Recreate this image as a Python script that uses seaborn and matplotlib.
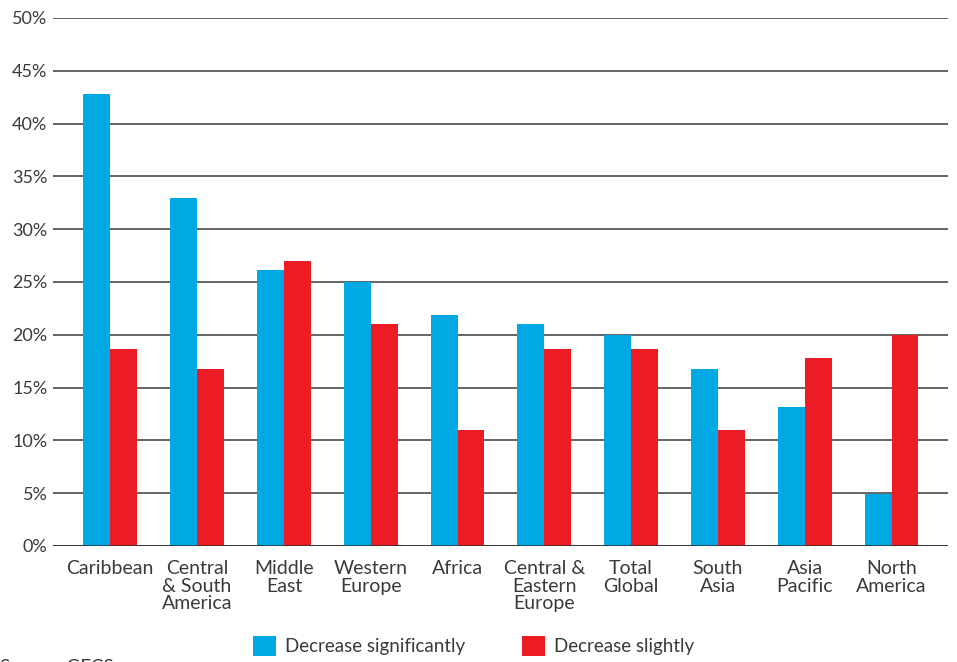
import pandas as pd
import matplotlib.pyplot as plt
import seaborn as sns
from matplotlib.patches import Patch

# chart data
regions = ["Caribbean", "Central\n& South\nAmerica", "Middle\nEast", "Western\nEurope",
           "Africa", "Central &\nEastern\nEurope", "Total\nGlobal", "South\nAsia",
           "Asia\nPacific", "North\nAmerica"]
decrease_significantly = [42.8, 33.0, 26.1, 25.0, 21.9, 21.0, 20.0, 16.8, 13.2, 4.9]
decrease_slightly = [18.7, 16.8, 27.0, 21.0, 11.0, 18.7, 18.7, 11.0, 17.8, 20.0]
series_names = ["Decrease significantly", "Decrease slightly"]
y_ticks = [0, 5, 10, 15, 20, 25, 30, 35, 40, 45, 50]

blue = "#00A9E3"
red = "#ED1C24"
text_col = "#3a3a3a"

df = pd.DataFrame({
    "region": regions * 2,
    "value": decrease_significantly + decrease_slightly,
    "series": [series_names[0]] * len(regions) + [series_names[1]] * len(regions),
})

sns.set_style("white")
plt.rcParams["font.family"] = ["Lato", "DejaVu Sans"]

fig = plt.figure(figsize=(9.57, 6.62), dpi=100)
ax = fig.add_axes([53 / 957, 1 - 546 / 662, (948 - 53) / 957, (546 - 18) / 662])

sns.barplot(data=df, x="region", y="value", hue="series", palette=[blue, red],
            width=0.62, saturation=1, ax=ax, legend=False, zorder=3,
            linewidth=0, edgecolor="none")

# gridlines
for t in y_ticks:
    ax.axhline(t, color="#4a4a4a", lw=1.2, zorder=1)
ax.axhline(0, color="#2a2a2a", lw=1.8, zorder=4)

ax.set_ylim(0, 50)
ax.set_xlim(-0.66, len(regions) - 0.35)
ax.set_yticks(y_ticks)
ax.set_yticklabels([f"{t}%" for t in y_ticks], fontsize=13, color=text_col)
ax.set_xticks(range(len(regions)))
ax.set_xticklabels(regions, fontsize=14, color=text_col, linespacing=1.05, va="top")
ax.tick_params(axis="both", length=0, pad=4)
ax.tick_params(axis="x", pad=10)
ax.set_xlabel("")
ax.set_ylabel("")
for s in ax.spines.values():
    s.set_visible(False)

handles = [Patch(facecolor=blue, edgecolor="none"), Patch(facecolor=red, edgecolor="none")]
fig.legend(handles, series_names, loc="center", bbox_to_anchor=(0.495, 1 - 646 / 662),
           ncol=2, frameon=False, fontsize=13.5, handlelength=1.2, handleheight=1.2,
           columnspacing=3.05, handletextpad=0.5, labelcolor=text_col)

fig.text(0.0, 1 - 659 / 662, "Source: GFCS", fontsize=13.5, color=text_col, va="top")

fig.savefig("out.png", dpi=100)
